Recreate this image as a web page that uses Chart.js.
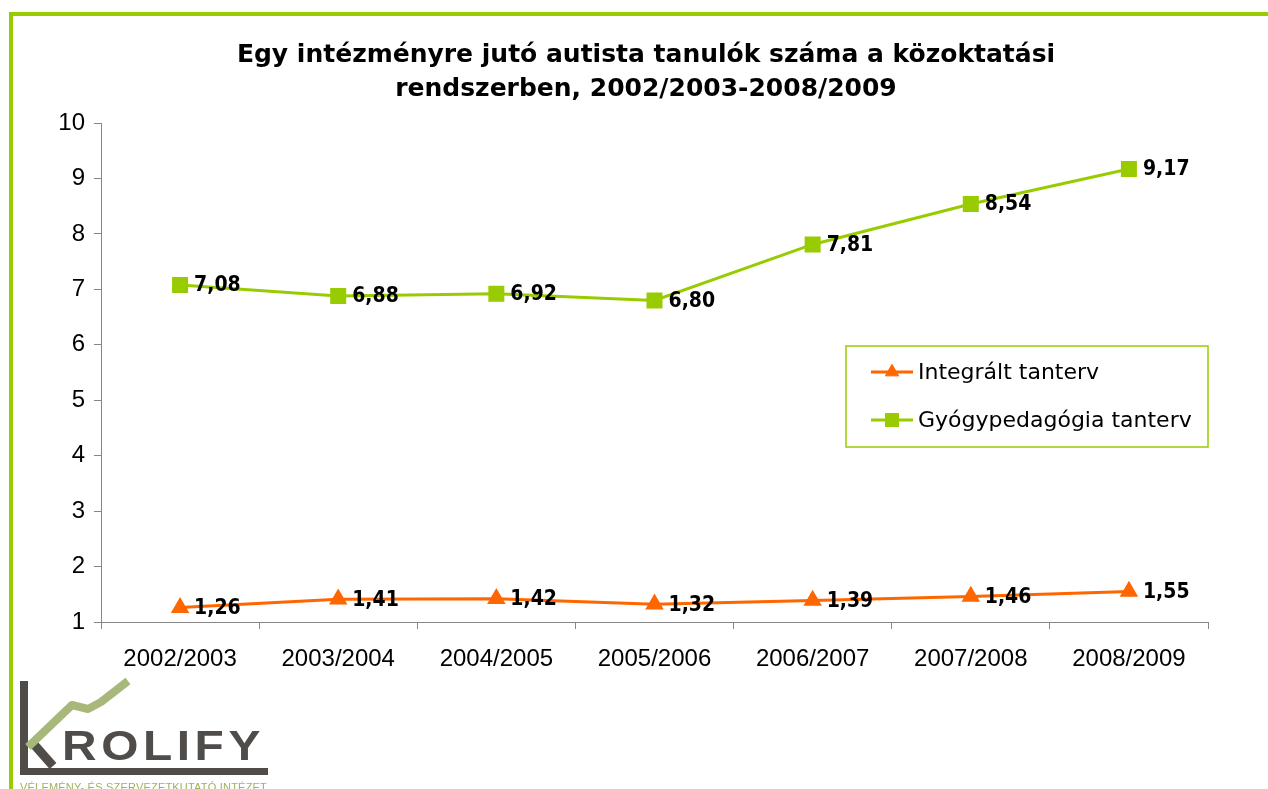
<!DOCTYPE html>
<html>
<head>
<meta charset="utf-8">
<script src="https://cdn.jsdelivr.net/npm/chart.js@4.4.0/dist/chart.umd.min.js"></script>
<style>
  html, body { margin: 0; padding: 0; background: #fff; overflow: hidden; }
  #wrap { position: relative; width: 1268px; height: 789px; }
  #frame {
    position: absolute; left: 9px; top: 12px; right: 0; bottom: 0;
    border-top: 4px solid #99cc00; border-left: 4px solid #99cc00;
    pointer-events: none;
  }
</style>
</head>
<body>
<div id="wrap">
  <canvas id="chart" width="1268" height="789"></canvas>
  <div id="frame"></div>
</div>
<script>
// ── Data ──────────────────────────────────────────────────────────────────────
const CATEGORIES = ["2002/2003", "2003/2004", "2004/2005", "2005/2006", "2006/2007", "2007/2008", "2008/2009"];
const INTEGRALT  = [1.26, 1.41, 1.42, 1.32, 1.39, 1.46, 1.55];
const GYOGYPED   = [7.08, 6.88, 6.92, 6.80, 7.81, 8.54, 9.17];
const Y_MIN = 1;
const Y_MAX = 10;

const TITLE_LINES = [
  "Egy intézményre jutó autista tanulók száma a közoktatási",
  "rendszerben, 2002/2003-2008/2009",
];

const ORANGE = "#ff6600";
const GREEN  = "#99cc00";
const AXIS   = "#868686";

const _fmt = (v) => v.toFixed(2).replace(".", ",");

// ── Plugins ───────────────────────────────────────────────────────────────────

// value labels to the right of each point
const valueLabels = {
  id: "valueLabels",
  afterDatasetsDraw(chart) {
    const ctx = chart.ctx;
    ctx.save();
    ctx.font = 'bold 21px "DejaVu Sans Condensed", "DejaVu Sans"';
    ctx.fillStyle = "#000";
    ctx.textAlign = "left";
    ctx.textBaseline = "middle";
    chart.data.datasets.forEach((ds, i) => {
      chart.getDatasetMeta(i).data.forEach((pt, j) => {
        ctx.fillText(_fmt(ds.data[j]), pt.x + 14, pt.y + 1);
      });
    });
    ctx.restore();
  },
};

// boxed legend inside the plot area
const boxLegend = {
  id: "boxLegend",
  afterDraw(chart) {
    const ctx = chart.ctx;
    ctx.save();
    ctx.strokeStyle = GREEN;
    ctx.lineWidth = 1.5;
    ctx.strokeRect(846, 346, 362, 101);
    ctx.font = '22px "DejaVu Sans"';
    ctx.textAlign = "left";
    ctx.textBaseline = "middle";
    chart.data.datasets.forEach((ds, i) => {
      const y = 372 + i * 48;
      ctx.strokeStyle = ds.borderColor;
      ctx.lineWidth = 3;
      ctx.beginPath();
      ctx.moveTo(871, y);
      ctx.lineTo(913, y);
      ctx.stroke();
      ctx.fillStyle = ds.pointBackgroundColor;
      ctx.strokeStyle = ds.pointBorderColor;
      ctx.lineWidth = 1;
      Chart.helpers.drawPoint(ctx, { pointStyle: ds.pointStyle, radius: ds.pointRadius, rotation: 0, borderWidth: 1 }, 892, y);
      ctx.fillStyle = "#000";
      ctx.fillText(ds.label, 918, y + 1);
    });
    ctx.restore();
  },
};

// institute logo, bottom left
const logo = {
  id: "logo",
  afterDraw(chart) {
    const ctx = chart.ctx;
    ctx.save();
    ctx.fillStyle = "#4f4c4a";
    ctx.fillRect(20, 681, 8, 94);
    ctx.fillRect(20, 768, 248, 7);
    ctx.strokeStyle = "#4f4c4a";
    ctx.lineWidth = 9;
    ctx.beginPath();
    ctx.moveTo(31, 741);
    ctx.lineTo(53, 766);
    ctx.stroke();
    ctx.strokeStyle = "#a8b77a";
    ctx.lineWidth = 8;
    ctx.lineJoin = "round";
    ctx.beginPath();
    ctx.moveTo(28, 747);
    ctx.lineTo(72, 705);
    ctx.lineTo(88, 709);
    ctx.lineTo(101, 702);
    ctx.lineTo(128, 681);
    ctx.stroke();

    ctx.save();
    ctx.translate(62, 760);
    ctx.scale(1.14, 1);
    ctx.fillStyle = "#4f4c4a";
    ctx.font = 'bold 42px "Liberation Sans"';
    ctx.textBaseline = "alphabetic";
    ctx.letterSpacing = "4px";
    ctx.fillText("ROLIFY", 0, 0);
    ctx.restore();

    ctx.fillStyle = "#9cb35e";
    ctx.font = '11px "Liberation Sans"';
    ctx.letterSpacing = "0.2px";
    ctx.fillText("VÉLEMÉNY- ÉS SZERVEZETKUTATÓ INTÉZET", 20, 791);
    ctx.restore();
  },
};

// ── Chart ─────────────────────────────────────────────────────────────────────

const TICK_FONT = { family: '"Liberation Sans"', size: 24 };

new Chart(document.getElementById("chart"), {
  type: "line",
  data: {
    labels: CATEGORIES,
    datasets: [
      {
        label:                "Integrált tanterv",
        data:                 INTEGRALT,
        borderColor:          ORANGE,
        backgroundColor:      ORANGE,
        pointBackgroundColor: ORANGE,
        pointBorderColor:     ORANGE,
        pointStyle:           "triangle",
        pointRadius:          7.7,
        borderWidth:          3,
        tension:              0,
      },
      {
        label:                "Gyógypedagógia tanterv",
        data:                 GYOGYPED,
        borderColor:          GREEN,
        backgroundColor:      GREEN,
        pointBackgroundColor: GREEN,
        pointBorderColor:     GREEN,
        pointStyle:           "rect",
        pointRadius:          9.2,
        borderWidth:          3,
        tension:              0,
      },
    ],
  },
  options: {
    responsive: false,
    animation: false,
    devicePixelRatio: 1,
    layout: { padding: { left: 24, right: 0, top: 0, bottom: 0 } },
    plugins: {
      legend:  { display: false },
      tooltip: { enabled: false },
      title: {
        display:  true,
        text:     TITLE_LINES,
        color:    "#000",
        fullSize: true,
        font:     { family: '"DejaVu Sans"', size: 25, weight: "bold", lineHeight: 34 / 25 },
        padding:  { top: 38, bottom: 17 },
      },
    },
    scales: {
      x: {
        offset: true,
        grid:   { offset: true, drawOnChartArea: false, tickLength: 7, color: AXIS },
        border: { color: AXIS, width: 1 },
        ticks:  { color: "#000", font: TICK_FONT, padding: 16, maxRotation: 0, autoSkip: false },
        afterFit: (s) => { s.height = 167; },
      },
      y: {
        min: Y_MIN,
        max: Y_MAX,
        grid:   { drawOnChartArea: false, tickLength: 7, color: AXIS },
        border: { color: AXIS, width: 1 },
        ticks:  { stepSize: 1, color: "#000", font: TICK_FONT, padding: 9 },
        afterFit: (s) => { s.width = 77; },
      },
      // empty right axis, only reserves the margin right of the plot
      y2: {
        position: "right",
        grid:   { display: false },
        border: { display: false },
        ticks:  { display: false },
        afterFit: (s) => { s.width = 60; },
      },
    },
  },
  plugins: [valueLabels, boxLegend, logo],
});
</script>
</body>
</html>
